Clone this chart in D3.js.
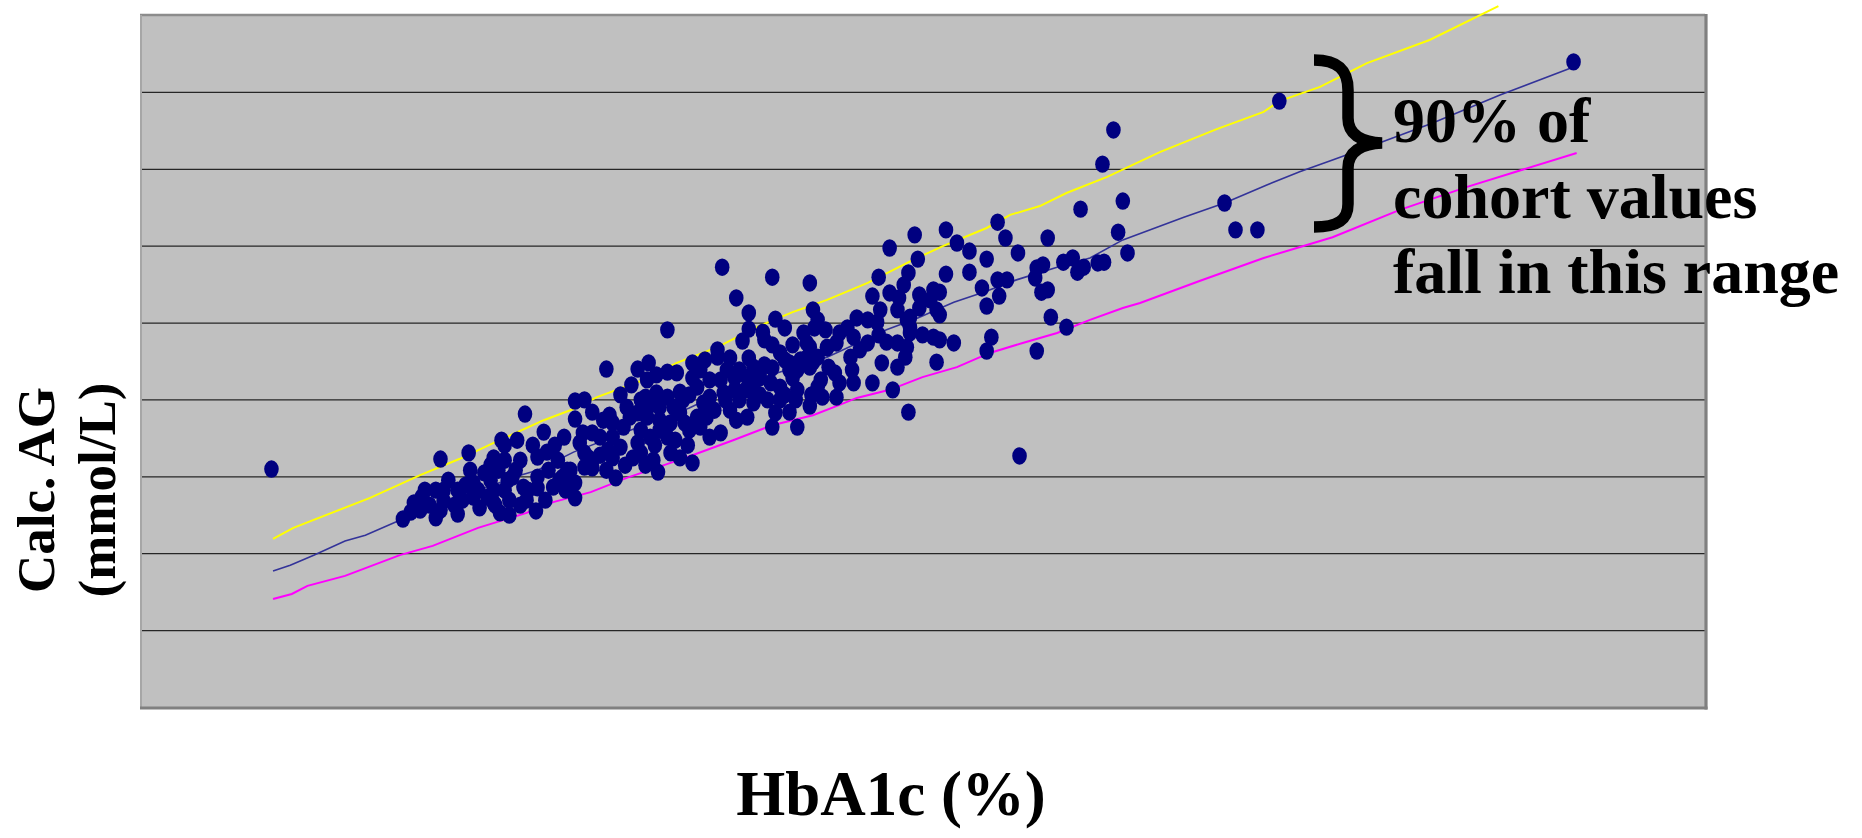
<!DOCTYPE html>
<html>
<head>
<meta charset="utf-8">
<script src="https://cdn.jsdelivr.net/npm/d3@7"></script>
<style>
  body { margin: 0; background: #fff; }
  text { font-family: "Liberation Serif", "Times New Roman", serif; font-weight: bold; }
</style>
</head>
<body>
<div id="chart"></div>
<script>
// HbA1c (%) vs calculated average glucose (mmol/L), one point per subject
const points = [
  [4.84,6.19],[5.92,6.45],[6.10,6.61],[6.31,6.94],[6.41,6.94],[6.46,7.62],[6.58,7.15],[6.71,7.02],
  [6.78,7.96],[6.78,7.49],[6.84,7.99],[6.83,7.13],[6.84,6.24],[5.68,4.89],[5.75,5.31],[5.80,5.46],
  [5.89,4.92],[5.89,5.64],[5.94,5.64],[5.94,5.36],[6.03,5.64],[6.03,5.02],[6.06,5.38],[6.13,5.83],
  [6.17,5.18],[6.20,6.09],[6.26,6.48],[6.26,5.64],[6.30,5.05],[6.33,6.42],[6.35,5.90],[6.36,5.38],
  [6.43,6.42],[6.45,5.72],[6.47,5.38],[6.51,6.81],[6.54,6.50],[6.54,5.98],[6.54,5.70],[6.53,5.10],
  [6.60,6.63],[6.67,6.42],[6.64,5.72],[6.70,5.98],[6.72,5.64],[6.78,5.44],[6.78,5.83],[6.84,6.61],
  [6.13,5.46],[6.22,5.46],[6.26,5.31],[6.38,5.98],
  [6.11,6.16],[6.16,5.64],[6.24,5.90],[6.29,6.16],[6.33,5.64],[6.40,6.16],[6.27,5.25],[6.36,4.99],
  [6.43,5.25],[6.48,5.64],[6.59,5.38],[6.61,6.16],[6.68,5.90],[6.75,6.16],[6.08,5.77],[6.01,5.25],
  [5.97,5.90],[5.85,5.25],[5.79,5.12],[5.73,5.07],[5.92,5.12],[5.82,5.64],[6.33,6.81],[6.65,6.81],
  [6.24,6.29],
  [7.81,10.64],[7.89,10.25],[7.89,9.83],[7.85,9.52],[8.06,10.09],[8.30,10.33],[8.33,10.07],[8.31,9.86],
  [8.38,9.81],[8.24,9.73],[8.12,9.86],[7.98,9.75],[7.99,9.55],[8.04,9.42],[8.09,9.21],[8.17,9.42],
  [8.26,9.47],[8.39,9.34],[8.26,9.08],[8.30,8.97],[8.40,8.84],[8.15,8.77],[8.20,8.77],[8.04,8.82],
  [7.92,8.84],[7.89,9.08],[7.77,9.08],[7.69,9.10],[7.69,9.29],[7.53,8.95],[7.37,9.81],[6.98,8.79],
  [7.18,8.79],[7.25,8.95],[7.30,8.64],[7.24,8.51],[7.37,8.71],[7.43,8.69],[7.45,8.19],[7.53,8.56],
  [7.56,8.32],[7.64,8.51],[7.75,8.77],[7.80,8.56],[7.88,8.58],[7.92,8.32],[7.96,8.56],[8.03,8.43],
  [8.09,8.32],[8.17,8.56],[8.20,8.25],[8.19,7.99],[8.33,8.32],[8.36,8.06],[8.45,8.06],[8.44,8.69],
  [8.28,7.83],[8.15,7.67],[8.06,7.65],[8.04,7.28],[8.20,7.28],[8.01,7.99],[7.92,7.91],[7.83,7.99],
  [7.88,7.54],[7.81,7.46],[7.77,7.72],[7.73,8.17],[7.64,8.06],[7.60,7.91],[7.56,7.54],[7.58,7.28],
  [7.64,7.02],[7.71,7.13],[7.62,7.54],[7.53,6.35],[7.45,6.48],[7.39,6.61],[7.31,6.11],[7.28,6.42],
  [7.20,6.61],[7.15,6.48],[7.04,5.96],[7.02,6.48],[6.99,6.68],[7.18,6.87],[7.20,7.20],[7.26,7.02],
  [7.32,7.20],[7.37,7.02],[7.39,7.39],[7.32,7.46],[7.24,7.54],[7.18,7.65],[7.11,7.80],[7.09,7.28],
  [7.02,7.39],[7.00,7.59],[6.96,7.46],[7.23,8.06],[7.30,8.17],[7.37,8.06],[7.24,7.80],[7.32,7.80],
  [7.41,7.80],[7.45,7.65],[7.48,7.39],[6.89,7.67],[6.89,7.13],[6.94,7.02],[6.81,6.87],[6.86,6.50],
  [6.89,6.42],[6.89,6.22],[6.73,6.16],[7.02,7.02],[7.07,6.76],[7.13,7.54],
  [7.07,8.12],[7.14,8.38],[7.20,7.99],[7.26,7.86],[7.29,6.81],[7.23,6.29],[7.10,6.29],[6.94,6.55],
  [6.98,6.16],[7.47,7.99],[7.51,8.12],[7.58,8.77],[7.61,9.03],[7.71,8.51],[7.74,7.99],[7.67,7.72],
  [7.51,7.20],[7.50,6.81],[7.42,6.94],[7.96,8.12],[8.09,7.99],[8.12,8.12],[7.99,8.90],[8.12,9.03],
  [7.87,8.25],[7.80,8.25],[8.29,8.12],[8.22,9.03],
  [7.72,11.44],[8.04,11.18],[8.28,11.03],[8.79,11.94],[8.95,12.28],[9.15,12.41],[9.22,12.07],[8.97,11.65],
  [9.15,11.26],[8.72,11.18],[8.91,11.29],[8.88,10.98],[8.68,10.69],[8.79,10.77],[8.85,10.64],[8.73,10.33],
  [8.84,10.33],[8.58,10.12],[8.65,10.07],[8.71,10.01],[8.90,10.07],[8.92,9.73],[8.98,10.72],[9.07,10.85],
  [9.11,10.79],[9.05,10.59],[8.98,10.38],[9.09,10.33],[9.11,10.20],[9.00,9.68],[9.07,9.62],[9.11,9.55],
  [9.20,9.47],[9.09,8.97],[8.90,9.36],[8.84,9.47],[8.77,9.49],[8.72,9.68],[8.74,8.95],[8.84,8.84],
  [8.89,9.10],[8.68,8.43],[8.81,8.25],[8.65,9.47],[8.60,9.29],[8.54,9.10],[8.47,9.73],[8.52,9.86],
  [8.56,9.62],[8.47,8.43],[8.55,8.77],[8.56,8.43],[8.39,9.36],[8.45,9.47],[8.28,9.36],[8.33,9.10],
  [8.28,8.84],[8.15,8.95],[7.96,8.69],[7.83,8.77],[8.35,8.51],
  [10.22,15.01],[10.15,14.12],[10.28,13.16],[10.01,12.95],[10.25,12.35],[10.31,11.81],[9.80,12.20],[9.61,11.81],
  [9.53,12.20],[9.48,12.61],[9.30,11.86],[9.41,11.65],[9.30,11.31],[9.38,10.90],[9.48,11.11],[9.54,11.11],
  [9.49,10.69],[9.41,10.43],[9.73,11.42],[9.77,11.50],[9.72,11.16],[9.76,10.79],[9.80,10.85],[9.90,11.57],
  [9.96,11.68],[9.99,11.31],[10.03,11.44],[10.12,11.55],[10.16,11.57],[9.82,10.14],[9.92,9.88],[9.73,9.26],
  [9.44,9.62],[9.41,9.26],[8.91,7.67],[9.62,6.53],[8.92,9.88],[8.92,10.14],
  [13.16,16.78],[11.28,15.76],[10.93,13.11],[11.00,12.41],[11.14,12.41]
];

// upper bound of the 90% range
const upperLine = [
  [4.85,4.37],[4.98,4.66],[5.47,5.44],[5.79,6.03],[6.04,6.45],[6.26,6.87],[6.58,7.46],[6.77,7.75],
  [6.92,8.06],[7.20,8.48],[7.43,8.95],[7.69,9.36],[7.94,9.88],[8.17,10.27],[8.39,10.59],[8.65,11.03],
  [8.94,11.63],[9.13,11.99],[9.41,12.46],[9.56,12.80],[9.75,13.03],[9.92,13.37],[10.18,13.79],[10.52,14.44],
  [10.88,15.03],[11.18,15.48],[11.28,15.76],[11.54,16.13],[11.84,16.75],[12.24,17.35],[12.68,18.23]
];

// middle (regression) line
const middleLine = [
  [4.85,3.54],[4.96,3.69],[5.11,3.95],[5.31,4.32],[5.44,4.47],[5.66,4.86],[5.87,5.20],[6.43,6.03],
  [6.54,6.16],[6.77,6.63],[7.30,7.46],[7.51,7.78],[7.79,8.32],[8.07,8.69],[8.39,9.10],[8.77,9.81],
  [8.97,10.12],[9.20,10.53],[9.39,10.79],[9.60,11.11],[9.86,11.44],[10.07,11.68],[10.28,12.15],[10.67,12.74],
  [10.93,13.11],[11.20,13.58],[11.41,13.92],[11.62,14.23],[11.94,14.70],[12.26,15.19],[12.69,15.92],[13.16,16.65]
];

// lower bound of the 90% range
const lowerLine = [
  [4.85,2.81],[4.97,2.94],[5.07,3.15],[5.31,3.41],[5.66,3.95],[5.87,4.19],[6.16,4.66],[6.32,4.86],
  [6.47,5.05],[6.64,5.33],[6.88,5.59],[7.11,5.96],[7.39,6.35],[7.53,6.55],[7.79,6.94],[8.04,7.33],
  [8.30,7.59],[8.47,7.86],[8.58,8.04],[8.79,8.25],[9.00,8.58],[9.22,8.84],[9.43,9.21],[9.64,9.47],
  [9.86,9.73],[10.07,10.07],[10.28,10.38],[10.39,10.51],[10.77,11.08],[11.18,11.68],[11.62,12.22],[12.05,12.93],
  [12.48,13.53],[13.18,14.41]
];

const gridValues = [2, 4, 6, 8, 10, 12, 14, 16];
const noteLines = ["90% of", "cohort values", "fall in this range"];
const yTitleLines = ["Calc. AG", "(mmol/L)"];

const width = 1862, height = 838;
const plot = {left: 140, top: 15, right: 1705, bottom: 707};

const x = d3.scaleLinear().domain([4, 14]).range([plot.left, plot.right]);
const y = d3.scaleLinear().domain([0, 18]).range([plot.bottom, plot.top]);

const svg = d3.select("#chart").append("svg")
  .attr("width", width)
  .attr("height", height)
  .attr("viewBox", "0 0 " + width + " " + height);

// plot area
svg.append("rect")
  .attr("x", plot.left).attr("y", plot.top)
  .attr("width", plot.right - plot.left)
  .attr("height", plot.bottom - plot.top)
  .attr("fill", "#c0c0c0");

// horizontal gridlines
const yAxis = d3.axisLeft(y)
  .tickValues(gridValues)
  .tickSize(-(plot.right - plot.left))
  .tickFormat("");
const gy = svg.append("g")
  .attr("transform", "translate(" + plot.left + ",0)")
  .call(yAxis);
gy.select(".domain").remove();
gy.selectAll(".tick line").attr("stroke", "#262626").attr("stroke-width", 1.3);

// frame
svg.append("line").attr("x1", plot.left).attr("x2", plot.right).attr("y1", plot.top).attr("y2", plot.top)
  .attr("stroke", "#8c8c8c").attr("stroke-width", 2.4);
svg.append("line").attr("x1", plot.left + 1).attr("x2", plot.left + 1).attr("y1", plot.top).attr("y2", plot.bottom)
  .attr("stroke", "#a6a6a6").attr("stroke-width", 2);
svg.append("line").attr("x1", plot.right + 1).attr("x2", plot.right + 1).attr("y1", plot.top - 1).attr("y2", plot.bottom + 2.5)
  .attr("stroke", "#808080").attr("stroke-width", 3.2);
svg.append("line").attr("x1", plot.left).attr("x2", plot.right + 2.5).attr("y1", plot.bottom + 1).attr("y2", plot.bottom + 1)
  .attr("stroke", "#808080").attr("stroke-width", 3.2);

// percentile lines
const line = d3.line().x(d => x(d[0])).y(d => y(d[1]));
[
  {data: upperLine, color: "#ffff00", w: 2},
  {data: lowerLine, color: "#ff00ff", w: 2},
  {data: middleLine, color: "#333399", w: 1.6}
].forEach(s => {
  svg.append("path")
    .datum(s.data)
    .attr("fill", "none")
    .attr("stroke", s.color)
    .attr("stroke-width", s.w)
    .attr("d", line);
});

// subjects
svg.append("g").selectAll("ellipse")
  .data(points)
  .join("ellipse")
  .attr("cx", d => x(d[0]))
  .attr("cy", d => y(d[1]))
  .attr("rx", 7.3)
  .attr("ry", 8.7)
  .attr("fill", "#000080");

// brace
svg.append("path")
  .attr("d", "M1314,60 C1338,60 1348,70 1348,90 L1348,118 C1348,134 1360,142 1382,143 " +
             "C1360,144 1348,152 1348,168 L1348,204 C1348,220 1338,227 1314,227")
  .attr("fill", "none")
  .attr("stroke", "#000")
  .attr("stroke-width", 11.5);

// note
svg.append("g").selectAll("text")
  .data(noteLines)
  .join("text")
  .attr("x", 1393)
  .attr("y", (d, i) => 142 + i * 75.5)
  .attr("font-size", 64)
  .attr("fill", "#000")
  .text(d => d);

// axis titles
svg.append("text")
  .attr("x", 891).attr("y", 815)
  .attr("text-anchor", "middle")
  .attr("font-size", 63)
  .text("HbA1c (%)");

svg.append("g").selectAll("text")
  .data(yTitleLines)
  .join("text")
  .attr("transform", (d, i) => "translate(" + (54 + i * 61) + ",490) rotate(-90)")
  .attr("text-anchor", "middle")
  .attr("font-size", 53)
  .text(d => d);
</script>
</body>
</html>
